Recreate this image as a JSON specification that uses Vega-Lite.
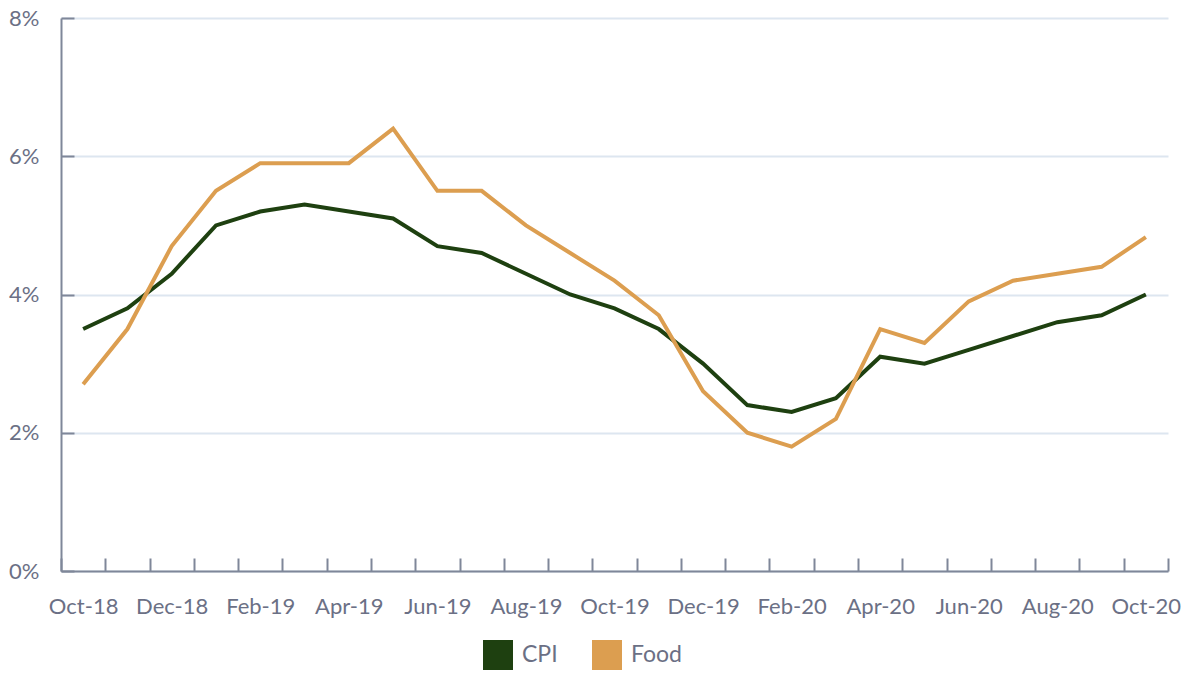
{
  "$schema": "https://vega.github.io/schema/vega-lite/v6.json",
  "width": 1107,
  "height": 553,
  "autosize": {"type": "none"},
  "padding": {"left": 61, "top": 18, "right": 20, "bottom": 102},
  "background": "white",
  "config": {
    "view": {"stroke": null},
    "font": "Lato",
    "axis": {"labelFont": "Lato", "labelColor": "#6b7085", "domainColor": "#7f8799", "tickColor": "#7f8799"}
  },
  "data": {
    "values": [
      {"month": "Oct-18", "series": "CPI", "value": 3.5},
      {"month": "Nov-18", "series": "CPI", "value": 3.8},
      {"month": "Dec-18", "series": "CPI", "value": 4.3},
      {"month": "Jan-19", "series": "CPI", "value": 5.0},
      {"month": "Feb-19", "series": "CPI", "value": 5.2},
      {"month": "Mar-19", "series": "CPI", "value": 5.3},
      {"month": "Apr-19", "series": "CPI", "value": 5.2},
      {"month": "May-19", "series": "CPI", "value": 5.1},
      {"month": "Jun-19", "series": "CPI", "value": 4.7},
      {"month": "Jul-19", "series": "CPI", "value": 4.6},
      {"month": "Aug-19", "series": "CPI", "value": 4.3},
      {"month": "Sep-19", "series": "CPI", "value": 4.0},
      {"month": "Oct-19", "series": "CPI", "value": 3.8},
      {"month": "Nov-19", "series": "CPI", "value": 3.5},
      {"month": "Dec-19", "series": "CPI", "value": 3.0},
      {"month": "Jan-20", "series": "CPI", "value": 2.4},
      {"month": "Feb-20", "series": "CPI", "value": 2.3},
      {"month": "Mar-20", "series": "CPI", "value": 2.5},
      {"month": "Apr-20", "series": "CPI", "value": 3.1},
      {"month": "May-20", "series": "CPI", "value": 3.0},
      {"month": "Jun-20", "series": "CPI", "value": 3.2},
      {"month": "Jul-20", "series": "CPI", "value": 3.4},
      {"month": "Aug-20", "series": "CPI", "value": 3.6},
      {"month": "Sep-20", "series": "CPI", "value": 3.7},
      {"month": "Oct-20", "series": "CPI", "value": 4.0},
      {"month": "Oct-18", "series": "Food", "value": 2.7},
      {"month": "Nov-18", "series": "Food", "value": 3.5},
      {"month": "Dec-18", "series": "Food", "value": 4.7},
      {"month": "Jan-19", "series": "Food", "value": 5.5},
      {"month": "Feb-19", "series": "Food", "value": 5.9},
      {"month": "Mar-19", "series": "Food", "value": 5.9},
      {"month": "Apr-19", "series": "Food", "value": 5.9},
      {"month": "May-19", "series": "Food", "value": 6.4},
      {"month": "Jun-19", "series": "Food", "value": 5.5},
      {"month": "Jul-19", "series": "Food", "value": 5.5},
      {"month": "Aug-19", "series": "Food", "value": 5.0},
      {"month": "Sep-19", "series": "Food", "value": 4.6},
      {"month": "Oct-19", "series": "Food", "value": 4.2},
      {"month": "Nov-19", "series": "Food", "value": 3.7},
      {"month": "Dec-19", "series": "Food", "value": 2.6},
      {"month": "Jan-20", "series": "Food", "value": 2.0},
      {"month": "Feb-20", "series": "Food", "value": 1.8},
      {"month": "Mar-20", "series": "Food", "value": 2.2},
      {"month": "Apr-20", "series": "Food", "value": 3.5},
      {"month": "May-20", "series": "Food", "value": 3.3},
      {"month": "Jun-20", "series": "Food", "value": 3.9},
      {"month": "Jul-20", "series": "Food", "value": 4.2},
      {"month": "Aug-20", "series": "Food", "value": 4.3},
      {"month": "Sep-20", "series": "Food", "value": 4.4},
      {"month": "Oct-20", "series": "Food", "value": 4.83}
    ]
  },
  "mark": {"type": "line", "strokeWidth": 4, "strokeJoin": "miter"},
  "encoding": {
    "x": {
      "field": "month",
      "type": "ordinal",
      "sort": null,
      "scale": {"type": "band", "paddingInner": 0, "paddingOuter": 0},
      "axis": {
        "title": null,
        "labelAngle": 0,
        "labelFontSize": 22,
        "labelPadding": 38,
        "tickBand": "extent",
        "tickSize": -13,
        "tickWidth": 2,
        "domainWidth": 2,
        "labelExpr": "indexof(['Oct','Dec','Feb','Apr','Jun','Aug'], slice(datum.label,0,3)) >= 0 ? datum.label : ''"
      }
    },
    "y": {
      "field": "value",
      "type": "quantitative",
      "scale": {"domain": [0, 8], "nice": false},
      "axis": {
        "title": null,
        "values": [0, 2, 4, 6, 8],
        "labelExpr": "datum.value + '%'",
        "labelFontSize": 22,
        "labelPadding": 35,
        "tickSize": -13,
        "tickWidth": 2,
        "domainWidth": 2,
        "grid": true,
        "gridColor": "#dde6f0",
        "gridWidth": 2
      }
    },
    "color": {
      "field": "series",
      "type": "nominal",
      "scale": {"domain": ["CPI", "Food"], "range": ["#1e4010", "#dc9e50"]},
      "legend": {
        "title": null,
        "orient": "none",
        "direction": "horizontal",
        "legendX": 422,
        "legendY": 622,
        "symbolType": "square",
        "symbolSize": 900,
        "symbolStrokeWidth": 0,
        "symbolOpacity": 1,
        "labelFontSize": 23,
        "labelColor": "#6b7085",
        "labelOffset": 9,
        "columnPadding": 34,
        "encode": {
          "symbols": {"update": {"fill": {"scale": "color", "field": "value"}, "strokeWidth": {"value": 0}}}
        }
      }
    }
  }
}
